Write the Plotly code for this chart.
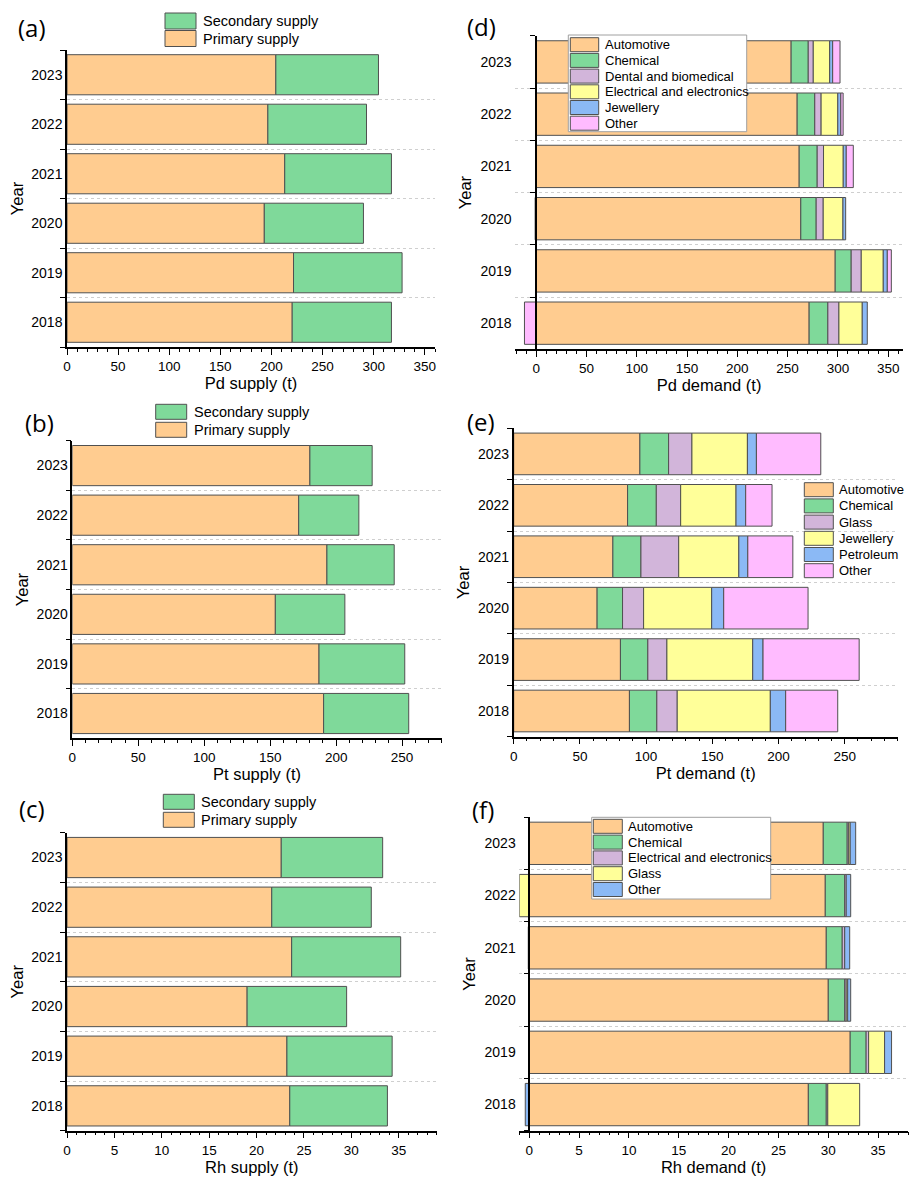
import plotly.graph_objects as go

W, H = 923, 1183

years = ["2018", "2019", "2020", "2021", "2022", "2023"]

# ---------- (a) Pd supply (t) ----------
pd_primary = [220.3, 221.6, 193.0, 213.0, 196.5, 204.3]
pd_secondary = [97.1, 106.2, 97.0, 104.4, 96.5, 100.4]

# ---------- (b) Pt supply (t) ----------
pt_primary = [190.5, 187.0, 153.9, 193.0, 171.6, 180.1]
pt_secondary = [64.5, 65.0, 52.7, 51.0, 45.6, 47.2]

# ---------- (c) Rh supply (t) ----------
rh_primary = [23.5, 23.2, 19.0, 23.7, 21.6, 22.6]
rh_secondary = [10.3, 11.1, 10.5, 11.5, 10.5, 10.7]

# ---------- (d) Pd demand (t) ----------
pd_auto = [271.4, 297.3, 263.1, 261.5, 259.5, 253.5]
pd_chem = [18.6, 15.9, 15.3, 17.9, 17.5, 17.0]
pd_dental = [11.0, 10.0, 7.0, 6.3, 6.3, 5.0]
pd_elec = [23.2, 21.9, 19.6, 19.6, 16.6, 16.3]
pd_jewel = [5.0, 4.0, 2.7, 3.0, 3.0, 3.0]
pd_other = [-11.6, 4.0, -1.0, 7.0, 2.3, 7.3]

# ---------- (e) Pt demand (t) ----------
pt_auto = [87.4, 80.6, 63.0, 74.9, 86.0, 95.3]
pt_chem = [20.7, 20.7, 19.2, 21.2, 21.7, 21.7]
pt_glass = [15.4, 14.4, 15.9, 28.5, 18.4, 17.6]
pt_jewel = [70.3, 64.8, 51.4, 45.4, 41.8, 41.9]
pt_petro = [11.6, 7.8, 9.1, 6.8, 7.3, 6.8]
pt_other = [39.3, 72.6, 63.7, 34.0, 19.9, 48.6]

# ---------- (f) Rh demand (t) ----------
rh_auto = [28.0, 32.2, 30.0, 29.8, 29.7, 29.5]
rh_chem = [1.8, 1.6, 1.65, 1.6, 1.95, 2.4]
rh_elec = [0.15, 0.25, 0.15, 0.25, 0.15, 0.15]
rh_glass = [3.2, 1.6, 0.15, -0.1, -1.0, 0.15]
rh_other = [-0.4, 0.7, 0.3, 0.5, 0.45, 0.55]

ORANGE = "#FFCC90"
GREEN = "#7FD99A"
PURPLE = "#D2B5DA"
YELLOW = "#FFFF99"
BLUE = "#8BB9F5"
PINK = "#FFBBFF"
EDGE = "#505050"

FONT = "Liberation Sans"


def px(x):
    return x / W


def py(y):
    return 1 - y / H


panels = [
    dict(k=1, xdom=(67, 435), ydom=(50, 347), xr=[0, 360], dt=50, mn=10,
         xtitle="Pd supply (t)", label="(a)", lab=(32, 27), yfree=False,
         series=[("Primary supply", pd_primary, ORANGE),
                 ("Secondary supply", pd_secondary, GREEN)],
         leg=dict(items=[("Secondary supply", GREEN), ("Primary supply", ORANGE)],
                  sx=(165, 196), top=13, h=16, pitch=17.5, tx=201, fs=14.5, box=None)),
    dict(k=2, xdom=(72.3, 441.7), ydom=(440.8, 738.3), xr=[0, 280], dt=50, mn=10,
         xtitle="Pt supply (t)", label="(b)", lab=(39, 422), yfree=False,
         series=[("Primary supply", pt_primary, ORANGE),
                 ("Secondary supply", pt_secondary, GREEN)],
         leg=dict(items=[("Secondary supply", GREEN), ("Primary supply", ORANGE)],
                  sx=(155.7, 186.7), top=404.3, h=15, pitch=18, tx=191.7, fs=14.5, box=None)),
    dict(k=3, xdom=(67, 436.7), ydom=(832.7, 1130.7), xr=[0, 39], dt=5, mn=1,
         xtitle="Rh supply (t)", label="(c)", lab=(32, 808), yfree=False,
         series=[("Primary supply", rh_primary, ORANGE),
                 ("Secondary supply", rh_secondary, GREEN)],
         leg=dict(items=[("Secondary supply", GREEN), ("Primary supply", ORANGE)],
                  sx=(163.3, 194.3), top=794.3, h=15, pitch=18, tx=199.3, fs=14.5, box=None)),
    dict(k=4, xdom=(515, 903.3), ydom=(35.8, 349.3), xr=[-21, 365], dt=50, mn=10,
         xtitle="Pd demand (t)", label="(d)", lab=(481, 26), yfree=True,
         series=[("Automotive", pd_auto, ORANGE), ("Chemical", pd_chem, GREEN),
                 ("Dental and biomedical", pd_dental, PURPLE),
                 ("Electrical and electronics", pd_elec, YELLOW),
                 ("Jewellery", pd_jewel, BLUE), ("Other", pd_other, PINK)],
         leg=dict(items=[("Automotive", ORANGE), ("Chemical", GREEN),
                         ("Dental and biomedical", PURPLE),
                         ("Electrical and electronics", YELLOW),
                         ("Jewellery", BLUE), ("Other", PINK)],
                  sx=(570.3, 598.7), top=37.7, h=14, pitch=15.7, tx=602.7, fs=13,
                  box=(568.3, 35, 746.7, 131.7))),
    dict(k=5, xdom=(513.7, 897.7), ydom=(428.2, 736.7), xr=[0, 290], dt=50, mn=10,
         xtitle="Pt demand (t)", label="(e)", lab=(481, 421), yfree=False,
         series=[("Automotive", pt_auto, ORANGE), ("Chemical", pt_chem, GREEN),
                 ("Glass", pt_glass, PURPLE), ("Jewellery", pt_jewel, YELLOW),
                 ("Petroleum", pt_petro, BLUE), ("Other", pt_other, PINK)],
         leg=dict(items=[("Automotive", ORANGE), ("Chemical", GREEN),
                         ("Glass", PURPLE), ("Jewellery", YELLOW),
                         ("Petroleum", BLUE), ("Other", PINK)],
                  sx=(804.3, 833.3), top=482.7, h=14, pitch=16.2, tx=837, fs=13, box=None)),
    dict(k=6, xdom=(519.3, 908), ydom=(817.2, 1130.7), xr=[-1, 38], dt=5, mn=1,
         xtitle="Rh demand (t)", label="(f)", lab=(483, 809), yfree=True,
         series=[("Automotive", rh_auto, ORANGE), ("Chemical", rh_chem, GREEN),
                 ("Electrical and electronics", rh_elec, PURPLE),
                 ("Glass", rh_glass, YELLOW), ("Other", rh_other, BLUE)],
         leg=dict(items=[("Automotive", ORANGE), ("Chemical", GREEN),
                         ("Electrical and electronics", PURPLE),
                         ("Glass", YELLOW), ("Other", BLUE)],
                  sx=(593.3, 622.3), top=819.3, h=14, pitch=15.8, tx=626, fs=13,
                  box=(591.7, 817.3, 770.7, 899))),
]

fig = go.Figure()
layout = dict(
    width=W, height=H,
    margin=dict(l=0, r=0, t=0, b=0),
    paper_bgcolor="white", plot_bgcolor="white",
    barmode="relative", bargap=0.19,
    showlegend=False,
    font=dict(family=FONT, size=13, color="black"),
)
shapes = []
annotations = []

for p in panels:
    k = p["k"]
    for name, vals, col in p["series"]:
        fig.add_trace(go.Bar(
            name=name, x=vals, y=years, orientation="h",
            xaxis=f"x{k}", yaxis=f"y{k}",
            marker=dict(color=col, line=dict(color=EDGE, width=1)),
            showlegend=False,
        ))
    x0, x1 = p["xdom"]
    yt, yb = p["ydom"]
    xr = p["xr"]
    layout[f"xaxis{k}"] = dict(
        domain=[px(x0), px(x1)], anchor=f"y{k}", range=xr,
        tick0=0, dtick=p["dt"], ticks="outside", ticklen=6, tickwidth=1.3,
        tickcolor="black", showline=True, linecolor="black", linewidth=1.5,
        showgrid=False, zeroline=False, automargin=False,
        minor=dict(tick0=0, dtick=p["mn"], ticks="outside", ticklen=3,
                   tickwidth=1, tickcolor="black", showgrid=False),
        tickfont=dict(family=FONT, size=13.5, color="black"),
        title=dict(text=p["xtitle"], font=dict(family=FONT, size=16.5, color="black"),
                   standoff=3),
    )
    ycfg = dict(
        domain=[py(yb), py(yt)], type="category",
        categoryorder="array", categoryarray=years, range=[-0.5, 5.5],
        tickson="boundaries", ticks="outside", ticklen=5, tickwidth=1.3,
        tickcolor="black", showline=True, linecolor="black", linewidth=1.5,
        showgrid=True, gridcolor="#cfcfcf", griddash="dot", gridwidth=1,
        zeroline=False, automargin=False,
        tickfont=dict(family=FONT, size=14, color="black"),
        title=dict(text="Year", font=dict(family=FONT, size=16.5, color="black"),
                   standoff=4),
    )
    if p["yfree"]:
        zero_px = x0 + (0 - xr[0]) / (xr[1] - xr[0]) * (x1 - x0)
        ycfg.update(anchor="free", position=px(zero_px),
                    ticklabelstandoff=int(round(zero_px - x0)))
    else:
        ycfg.update(anchor=f"x{k}")
    layout[f"yaxis{k}"] = ycfg

    # panel label
    annotations.append(dict(
        text=p["label"], x=px(p["lab"][0]), y=py(p["lab"][1]),
        xref="paper", yref="paper", xanchor="center", yanchor="middle",
        showarrow=False, font=dict(family="Open Sans", size=24, color="black"),
    ))

    # legend block
    lg = p["leg"]
    if lg["box"] is not None:
        bx0, by0, bx1, by1 = lg["box"]
        shapes.append(dict(type="rect", xref="paper", yref="paper",
                           x0=px(bx0), x1=px(bx1), y0=py(by1), y1=py(by0),
                           fillcolor="white", line=dict(color="#a0a0a0", width=1),
                           layer="above"))
    for i, (name, col) in enumerate(lg["items"]):
        top = lg["top"] + i * lg["pitch"]
        shapes.append(dict(type="rect", xref="paper", yref="paper",
                           x0=px(lg["sx"][0]), x1=px(lg["sx"][1]),
                           y0=py(top + lg["h"]), y1=py(top),
                           fillcolor=col, line=dict(color=EDGE, width=1),
                           layer="above"))
        annotations.append(dict(
            text=name, x=px(lg["tx"]), y=py(top + lg["h"] / 2),
            xref="paper", yref="paper", xanchor="left", yanchor="middle",
            showarrow=False, font=dict(family=FONT, size=lg["fs"], color="black"),
        ))

layout["shapes"] = shapes
layout["annotations"] = annotations
fig.update_layout(**layout)
fig.write_html("out.html")
